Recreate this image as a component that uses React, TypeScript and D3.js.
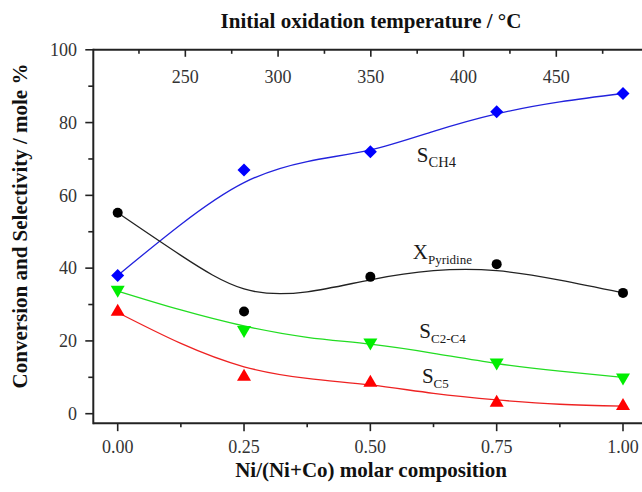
import React from "react";
import * as d3 from "d3";

// ---- data ----
const composition = [0, 0.25, 0.5, 0.75, 1.0];
const sCH4 = [38, 67, 72, 83, 88];
const xPyridine = [55.2, 28.1, 37.6, 41.1, 33.2];
const sC2C4 = [33.8, 22.7, 19.3, 13.8, 9.7];
const sC5 = [28.3, 10.4, 8.8, 3.3, 2.4];

// fitted trend curves
const fitX = [0, 0.125, 0.25, 0.375, 0.5, 0.625, 0.75, 0.875, 1.0];
const fitCH4 = [38, 52.0, 63.5, 69.3, 72.5, 77.6, 82.4, 85.7, 88];
const fitPyr = [55.2, 43.5, 34.3, 33.5, 36.8, 39.3, 39.3, 36.7, 33.2];
const fitC2C4 = [33.7, 28.5, 24.1, 21.0, 19.1, 16.6, 13.8, 11.7, 10.0];
const fitC5 = [27.8, 19.3, 12.9, 9.7, 7.9, 5.6, 3.8, 2.6, 2.1];

const bottomTicks = [0, 0.25, 0.5, 0.75, 1.0];
const bottomMinor = [0.125, 0.375, 0.625, 0.875];
const leftTicks = [0, 20, 40, 60, 80, 100];
const leftMinor = [10, 30, 50, 70, 90];
const topTicks = [250, 300, 350, 400, 450];
const topMinor = [225, 275, 325, 375, 425, 475];

const labels = [
  { main: "S", sub: "CH4", x: 0.592, y: 69.2, subSize: 14.5 },
  { main: "X", sub: "Pyridine", x: 0.584, y: 42.4, subSize: 13 },
  { main: "S", sub: "C2-C4", x: 0.597, y: 20.9, subSize: 13 },
  { main: "S", sub: "C5", x: 0.602, y: 8.4, subSize: 13 },
];

const serif = "'Liberation Serif', 'Times New Roman', serif";

export default function App() {
  const W = 642;
  const H = 492;
  const x = d3.scaleLinear().domain([0, 1]).range([117.7, 623]);
  const y = d3.scaleLinear().domain([0, 100]).range([413.7, 49.8]);
  const xT = d3.scaleLinear().domain([200, 450]).range([92.6, 556.3]);
  const x0 = x(-0.0483);
  const x1 = 660;
  const yTop = y(100);
  const yBot = y(-2.6);

  const line = d3
    .line<[number, number]>()
    .x((d) => x(d[0]))
    .y((d) => y(d[1]))
    .curve(d3.curveNatural);

  const zip = (xs: number[], ys: number[]) => xs.map((v, i) => [v, ys[i]] as [number, number]);

  const diamond = (cx: number, cy: number) =>
    `M${cx},${cy - 6.5}L${cx + 6.5},${cy}L${cx},${cy + 6.5}L${cx - 6.5},${cy}Z`;
  const triUp = (cx: number, cy: number) =>
    `M${cx},${cy - 7}L${cx + 7},${cy + 5}L${cx - 7},${cy + 5}Z`;
  const triDown = (cx: number, cy: number) =>
    `M${cx},${cy + 7}L${cx + 7},${cy - 5}L${cx - 7},${cy - 5}Z`;

  const axisColor = "#222";

  return (
    <svg
      width={W}
      height={H}
      style={{ position: "absolute", left: 0, top: 0, background: "#fff" }}
      fontFamily={serif}
    >
      <rect width={W} height={H} fill="#fff" />
      {/* titles */}
      <text x={371} y={28} textAnchor="middle" fontSize={21} fontWeight="bold" fill="#111">
        Initial oxidation temperature / °C
      </text>
      <text x={371} y={477} textAnchor="middle" fontSize={21} fontWeight="bold" fill="#111">
        Ni/(Ni+Co) molar composition
      </text>
      <text
        transform={`translate(27, 226) rotate(-90)`}
        textAnchor="middle"
        fontSize={21}
        fontWeight="bold"
        fill="#111"
      >
        Conversion and Selectivity / mole %
      </text>

      {/* curves */}
      <path d={line(zip(fitX, fitCH4)) || ""} fill="none" stroke="#2222dd" strokeWidth={1.3} />
      <path d={line(zip(fitX, fitPyr)) || ""} fill="none" stroke="#222" strokeWidth={1.3} />
      <path d={line(zip(fitX, fitC2C4)) || ""} fill="none" stroke="#22dd22" strokeWidth={1.3} />
      <path d={line(zip(fitX, fitC5)) || ""} fill="none" stroke="#ee2222" strokeWidth={1.3} />

      {/* markers */}
      {composition.map((c, i) => (
        <g key={i}>
          <path d={diamond(x(c), y(sCH4[i]))} fill="#0000ff" />
          <circle cx={x(c)} cy={y(xPyridine[i])} r={5} fill="#000" />
          <path d={triDown(x(c), y(sC2C4[i]))} fill="#00ee00" />
          <path d={triUp(x(c), y(sC5[i]))} fill="#ff0000" />
        </g>
      ))}

      {/* annotations */}
      {labels.map((l, i) => (
        <text key={i} x={x(l.x)} y={y(l.y)} fill="#1a1a1a">
          <tspan fontSize={21}>{l.main}</tspan>
          <tspan fontSize={l.subSize} dy={5}>
            {l.sub}
          </tspan>
        </text>
      ))}

      {/* axes frame */}
      <line x1={x0} x2={x1} y1={yTop} y2={yTop} stroke={axisColor} strokeWidth={2} />
      <line x1={x0} x2={x1} y1={yBot} y2={yBot} stroke={axisColor} strokeWidth={2} />
      <line x1={x0} x2={x0} y1={yTop - 1} y2={yBot + 1} stroke={axisColor} strokeWidth={2} />

      {/* left axis */}
      {leftTicks.map((t) => (
        <g key={"l" + t}>
          <line x1={x0 - 8} x2={x0} y1={y(t)} y2={y(t)} stroke={axisColor} strokeWidth={1.6} />
          <text x={77} y={y(t)} dy="0.35em" textAnchor="end" fontSize={18} fill="#333">
            {t}
          </text>
        </g>
      ))}
      {leftMinor.map((t) => (
        <line key={"lm" + t} x1={x0 - 5} x2={x0} y1={y(t)} y2={y(t)} stroke={axisColor} strokeWidth={1.6} />
      ))}

      {/* bottom axis */}
      {bottomTicks.map((t) => (
        <g key={"b" + t}>
          <line x1={x(t)} x2={x(t)} y1={yBot} y2={yBot + 8} stroke={axisColor} strokeWidth={1.6} />
          <text x={x(t)} y={453} textAnchor="middle" fontSize={18} fill="#333">
            {d3.format(".2f")(t)}
          </text>
        </g>
      ))}
      {bottomMinor.map((t) => (
        <line key={"bm" + t} x1={x(t)} x2={x(t)} y1={yBot} y2={yBot + 4} stroke={axisColor} strokeWidth={1.6} />
      ))}

      {/* top axis (temperature) */}
      {topTicks.map((t) => (
        <g key={"t" + t}>
          <line x1={xT(t)} x2={xT(t)} y1={yTop} y2={yTop + 7} stroke={axisColor} strokeWidth={1.6} />
          <text x={xT(t)} y={83} textAnchor="middle" fontSize={18} fill="#333">
            {t}
          </text>
        </g>
      ))}
      {topMinor.map((t) => (
        <line key={"tm" + t} x1={xT(t)} x2={xT(t)} y1={yTop} y2={yTop + 4} stroke={axisColor} strokeWidth={1.6} />
      ))}
    </svg>
  );
}
